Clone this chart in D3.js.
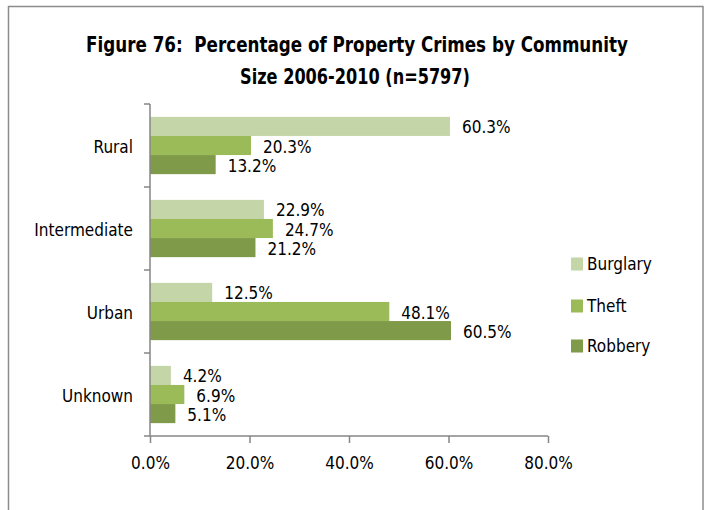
<!DOCTYPE html>
<html><head><meta charset="utf-8">
<script src="https://cdn.jsdelivr.net/npm/d3@7"></script>
<style>
html,body{margin:0;padding:0;background:#fff;}
text{font-family:"Liberation Sans Narrow","DejaVu Sans Condensed","Open Sans",sans-serif;fill:#000;}
</style></head>
<body>
<svg id="c" width="707" height="510"></svg>
<script>
const categories = ["Rural","Intermediate","Urban","Unknown"];
const seriesNames = ["Burglary","Theft","Robbery"];
const burglary = [60.3, 22.9, 12.5, 4.2];
const theft = [20.3, 24.7, 48.1, 6.9];
const robbery = [13.2, 21.2, 60.5, 5.1];
const xTicks = [0, 20, 40, 60, 80];
const titleLines = ["Figure 76:  Percentage of Property Crimes by Community", "Size 2006-2010 (n=5797)"];
const colors = ["#c4d6a8", "#9bbb59", "#7f9a49"];

const series = [burglary, theft, robbery];
const svg = d3.select("#c");

// outer border
svg.append("rect").attr("x",8.5).attr("y",6.5).attr("width",694.5).attr("height",520)
  .attr("fill","none").attr("stroke","#8c8c8c").attr("stroke-width",1.5);

// title (condensed horizontally to mimic the narrow bold face)
function titleLine(txt, cx, cy, targetW){
  const t = svg.append("text").attr("text-anchor","middle")
    .style("font-size","22px").style("font-weight","bold").style("white-space","pre").text(txt);
  const w = t.node().getComputedTextLength();
  const s = Math.min(1, targetW / w);
  t.attr("transform","translate("+cx+","+cy+") scale("+s+",1)");
}
titleLine(titleLines[0], 357, 52, 542);
titleLine(titleLines[1], 355, 84, 230);

const x = d3.scaleLinear().domain([0,80]).range([150,548]);
const y = d3.scaleBand().domain(categories).range([104,436]).paddingInner(0.31).paddingOuter(0.155);
const ySub = d3.scaleBand().domain(seriesNames).range([0,y.bandwidth()]);
const step = y.step();

// bars
categories.forEach((c,i)=>{
  seriesNames.forEach((s,j)=>{
    const v = series[j][i];
    svg.append("rect").attr("x",x(0)).attr("y",y(c)+ySub(s))
      .attr("width",x(v)-x(0)).attr("height",ySub.bandwidth()).attr("fill",colors[j]);
    svg.append("text").attr("x",x(v)+12).attr("y",y(c)+ySub(s)+ySub.bandwidth()/2+2)
      .attr("dominant-baseline","middle").style("font-size","17px").text(v.toFixed(1)+"%");
  });
});

// x axis
const gx = svg.append("g").attr("transform","translate(0,436)")
  .call(d3.axisBottom(x).tickValues(xTicks).tickSize(7).tickPadding(14).tickFormat(d=>d.toFixed(1)+"%"));
gx.select(".domain").attr("stroke","#868686").attr("stroke-width",1.5).attr("d","M"+(x(0)-6)+",0H"+x(80));
gx.selectAll(".tick line").attr("stroke","#868686").attr("stroke-width",1.5);
gx.selectAll(".tick text").style("font-size","17px").style("font-family",null).attr("fill","#000");

// y axis
const yTop = y.range()[0], yBot = y.range()[1];
svg.append("line").attr("x1",x(0)).attr("x2",x(0)).attr("y1",yTop).attr("y2",yBot)
  .attr("stroke","#868686").attr("stroke-width",1.5);
const bounds = categories.map(c=>y(c)-step*y.paddingInner()/2);
bounds.forEach(b=>{
  svg.append("line").attr("x1",x(0)-6).attr("x2",x(0)).attr("y1",b).attr("y2",b)
    .attr("stroke","#868686").attr("stroke-width",1.5);
});
categories.forEach(c=>{
  svg.append("text").attr("x",133).attr("y",y(c)+y.bandwidth()/2+2).attr("text-anchor","end")
    .attr("dominant-baseline","middle").style("font-size","17px").text(c);
});

// legend
const legY = [264, 306, 346];
seriesNames.forEach((s,j)=>{
  svg.append("rect").attr("x",571).attr("y",legY[j]-6.5).attr("width",12).attr("height",13).attr("fill",colors[j]);
  svg.append("text").attr("x",587).attr("y",legY[j]+1).attr("dominant-baseline","middle")
    .style("font-size","17px").text(s);
});
</script>
</body></html>
